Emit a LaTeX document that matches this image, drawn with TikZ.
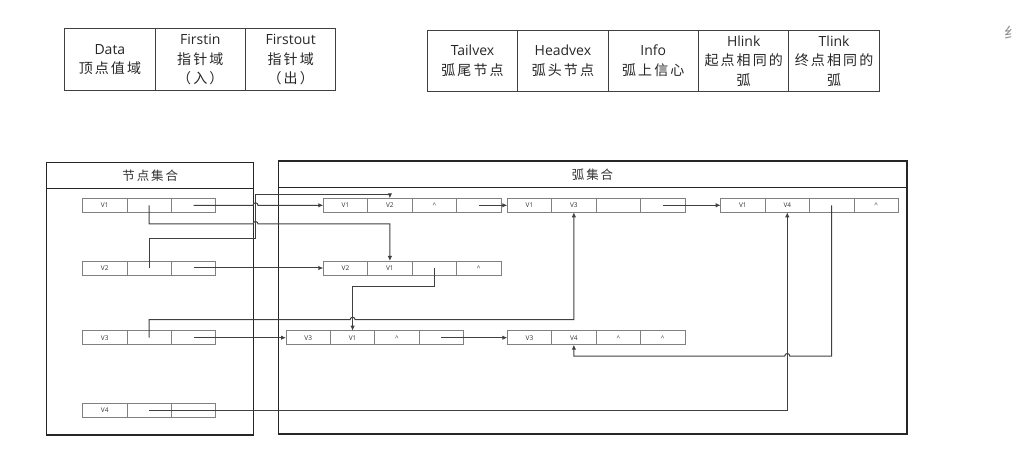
\documentclass[tikz,border=0pt]{standalone}
\usepackage{fontspec}
\setmainfont{Open Sans}
\newfontfamily\zh[LetterSpace=15]{Noto Sans CJK SC}
\newfontfamily\zhplain{Noto Sans CJK SC}
\usetikzlibrary{arrows.meta,positioning,calc}
\newcommand\mkvrow[3]{%
  \node[cell,anchor=west] (#1-1) at (82.5,#2) {#3};
  \node[cell,right=0pt of #1-1] (#1-2) {};
  \node[cell,right=0pt of #1-2] (#1-3) {};}
\newcommand\mkarow[7]{%
  \node[cell,anchor=west] (#1-1) at (#2,#3) {#4};
  \node[cell,right=0pt of #1-1] (#1-2) {#5};
  \node[cell,right=0pt of #1-2] (#1-3) {#6};
  \node[cell,right=0pt of #1-3] (#1-4) {#7};}
\begin{document}
\begin{tikzpicture}[x=1pt,y=1pt,
  hdrcell/.style={draw=black!75, line width=0.9pt, minimum width=90.4pt, minimum height=60.5pt,
    inner sep=0pt, outer sep=0pt, align=center, font=\fontsize{14}{19.5}\selectfont, text=black!85},
  cell/.style={draw=black!50, line width=0.7pt, minimum width=44.4pt, minimum height=14pt,
    inner sep=0pt, outer sep=0pt, font=\fontsize{6.5}{7}\selectfont, text=black!80},
  group/.style={draw=black!85, line width=1.1pt},
  link/.style={draw=black!75, line width=1pt},
  arr/.style={-{Latex[length=5pt,width=4.5pt]}},
  settitle/.style={font=\zh\fontsize{12.5}{14}\selectfont, text=black!80},
]
\useasboundingbox (0,0) rectangle (1018,-465);

% legend tables
\node[hdrcell, minimum height=62.5pt, anchor=north west] (t1a) at (64.7,-28.3) {Data\\{\zh 顶点值域}};
\node[hdrcell, minimum height=62.5pt, right=0pt of t1a] (t1b) {Firstin\\{\zh 指针域}\\{\zh （入）}};
\node[hdrcell, minimum height=62.5pt, right=0pt of t1b] (t1c) {Firstout\\{\zh 指针域}\\{\zh （出）}};

\node[hdrcell, anchor=north west] (t2a) at (427.3,-30.6) {Tailvex\\{\zh 弧尾节点}};
\node[hdrcell, right=0pt of t2a] (t2b) {Headvex\\{\zh 弧头节点}};
\node[hdrcell, right=0pt of t2b] (t2c) {Info\\{\zh 弧上信心}};
\node[hdrcell, right=0pt of t2c] (t2d) {Hlink\\{\zh 起点相同的}\\{\zh 弧}};
\node[hdrcell, right=0pt of t2d] (t2e) {Tlink\\{\zh 终点相同的}\\{\zh 弧}};

\node[anchor=west, inner sep=0pt, text=black!45, font=\zhplain\fontsize{15}{15}\selectfont] (cut) at (1004,-33) {纟};

% containers
\draw[group] (46.7,-162.3) rectangle (253.7,-435);
\draw[group] (46.7,-188.3) -- (253.7,-188.3);
\node[settitle] (vset) at (150.2,-175.3) {节点集合};
\draw[group] (278.3,-161) rectangle (907,-434);
\draw[group] (278.3,-187.7) -- (907,-187.7);
\node[settitle] (aset) at (592.6,-174.5) {弧集合};

% vertex rows
\mkvrow{v1}{-205.3}{V1}
\mkvrow{v2}{-268}{V2}
\mkvrow{v3}{-337.7}{V3}
\mkvrow{v4}{-410.5}{V4}

% arc rows
\mkarow{aA}{323.3}{-205.3}{V1}{V2}{\textasciicircum}{}
\mkarow{aB}{507.3}{-205.3}{V1}{V3}{}{}
\mkarow{aC}{720.7}{-205.3}{V1}{V4}{}{\textasciicircum}
\mkarow{aD}{323.3}{-268}{V2}{V1}{}{\textasciicircum}
\mkarow{aE}{286}{-337.7}{V3}{V1}{\textasciicircum}{}
\mkarow{aF}{507.3}{-337.7}{V3}{V4}{\textasciicircum}{\textasciicircum}

% helper coordinates
\coordinate (busLo) at (255.5,-238.3);
\coordinate (busHi) at (255.5,-194.3);
\coordinate (hop1) at (busHi |- v1-3.center);
\coordinate (hop2) at (255.5,-224);
\coordinate (y287) at (0,-287);
\coordinate (hop7) at ([yshift=11pt]aE-2.north);
\coordinate (y356) at (0,-356);
\coordinate (hop11) at (aC-2.south |- y356);

% connectors
\draw[link,arr] (v1-3.center) -- ([xshift=-2.5pt]hop1) arc[start angle=180,end angle=0,radius=2.5] -- (aA-1.west);
\draw[link,arr] (v1-2.center) |- ([xshift=-2.5pt]hop2) arc[start angle=180,end angle=0,radius=2.5] -| (aD-2.north);
\draw[link,arr] (v2-2.center) |- (busLo) -- (busHi) -| (aA-2.north);
\draw[link,arr] (v2-3.center) -- (aD-1.west);
\draw[link,arr] (aA-4.center) -- (aB-1.west);
\draw[link,arr] (aB-4.center) -- (aC-1.west);
\draw[link,arr] (aD-3.center) |- (aE-2.north |- y287) -- (aE-2.north);
\draw[link,arr] (v3-2.center) |- ([xshift=-2.5pt]hop7) arc[start angle=180,end angle=0,radius=2.5] -| (aB-2.south);
\draw[link,arr] (v3-3.center) -- (aE-1.west);
\draw[link,arr] (aE-4.center) -- (aF-1.west);
\draw[link,arr] (v4-2.center) -| (aC-2.south);
\draw[link,arr] (aC-3.center) |- ([xshift=2.5pt]hop11) arc[start angle=0,end angle=180,radius=2.5] -| (aF-2.south);
\end{tikzpicture}
\end{document}
